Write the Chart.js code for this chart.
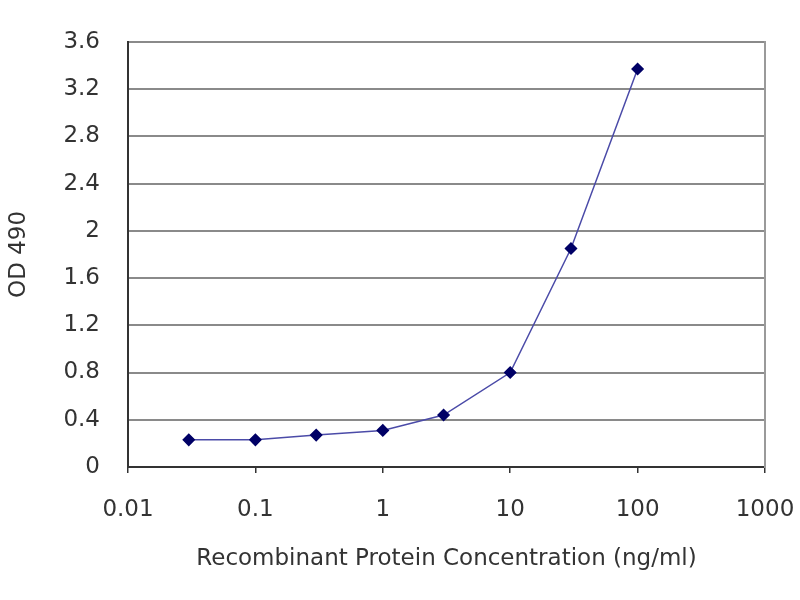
<!DOCTYPE html>
<html>
<head>
<meta charset="utf-8">
<script src="https://cdn.jsdelivr.net/npm/chart.js@4/dist/chart.umd.min.js"></script>
<style>
  html, body { margin: 0; padding: 0; background: #fff; }
  #wrap { width: 800px; height: 600px; }
</style>
</head>
<body>
<div id="wrap"><canvas id="odChart"></canvas></div>
<script>
// data
var concentrations = [0.03, 0.1, 0.3, 1, 3, 10, 30, 100];
var odValues = [0.23, 0.23, 0.27, 0.31, 0.44, 0.80, 1.85, 3.37];
var xTicks = [0.01, 0.1, 1, 10, 100, 1000];
var xTickLabels = ['0.01', '0.1', '1', '10', '100', '1000'];
var yTickLabels = ['0', '0.4', '0.8', '1.2', '1.6', '2', '2.4', '2.8', '3.2', '3.6'];

var points = concentrations.map(function(c, i) {
    return { x: c, y: odValues[i] };
});

var textColor = '#333333';
var font = { family: 'DejaVu Sans', size: 23 };

var ctx = document.getElementById('odChart').getContext('2d');
new Chart(ctx, {
    type: 'line',
    data: {
        datasets: [{
            data: points,
            borderColor: '#4b4ba8',
            borderWidth: 1.5,
            pointStyle: 'rectRot',
            pointRadius: 5.5,
            pointBackgroundColor: '#000066',
            pointBorderColor: '#000066',
            tension: 0
        }]
    },
    options: {
        responsive: true,
        maintainAspectRatio: false,
        animation: false,
        layout: { padding: { top: 37, right: 35, bottom: 20, left: 0 } },
        plugins: {
            legend: { display: false },
            tooltip: { enabled: false }
        },
        scales: {
            x: {
                type: 'logarithmic',
                min: 0.01,
                max: 1000,
                afterBuildTicks: function(scale) {
                    scale.ticks = xTicks.map(function(v) { return { value: v }; });
                },
                afterFit: function(scale) {
                    scale.height = 113;
                    // let the outer labels hang into the layout padding
                    scale.paddingLeft = 0;
                    scale.paddingRight = 0;
                },
                ticks: {
                    color: textColor,
                    font: font,
                    padding: 23,
                    maxRotation: 0,
                    autoSkip: false,
                    callback: function(value) {
                        var i = xTicks.indexOf(value);
                        return i >= 0 ? xTickLabels[i] : null;
                    }
                },
                grid: {
                    drawOnChartArea: false,
                    drawTicks: true,
                    tickLength: 6,
                    color: '#333333',
                    lineWidth: 1.5
                },
                border: { color: '#333333', width: 2 },
                title: {
                    display: true,
                    text: 'Recombinant Protein Concentration (ng/ml)',
                    color: textColor,
                    font: font,
                    padding: { top: 0, bottom: 7 }
                }
            },
            y: {
                min: 0,
                max: 3.6,
                afterFit: function(scale) { scale.width = 128; },
                ticks: {
                    stepSize: 0.4,
                    color: textColor,
                    font: font,
                    padding: 28,
                    callback: function(value, index) {
                        return yTickLabels[index];
                    }
                },
                grid: {
                    drawTicks: false,
                    color: '#8a8a8a',
                    lineWidth: 2
                },
                border: { color: '#333333', width: 2 },
                title: {
                    display: true,
                    text: 'OD 490',
                    color: textColor,
                    font: font,
                    padding: { top: 5, bottom: 0 }
                }
            },
            y2: {
                position: 'right',
                min: 0,
                max: 3.6,
                afterFit: function(scale) { scale.width = 0; },
                ticks: { display: false },
                grid: { display: false },
                border: { color: '#9a9a9a', width: 2 }
            }
        }
    }
});
</script>
</body>
</html>
